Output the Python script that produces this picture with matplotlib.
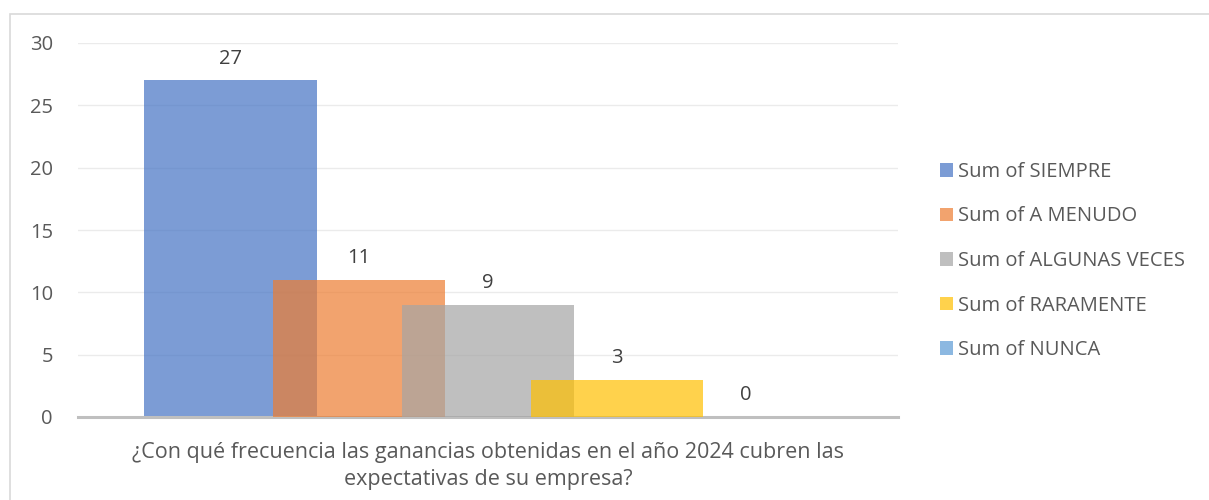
import matplotlib
matplotlib.use("Agg")
import matplotlib.pyplot as plt
from matplotlib.patches import Rectangle, Patch

# data
series = ["Sum of SIEMPRE", "Sum of A MENUDO", "Sum of ALGUNAS VECES",
          "Sum of RARAMENTE", "Sum of NUNCA"]
values = [27, 11, 9, 3, 0]
colors = ["#4472C4", "#ED7D31", "#A5A5A5", "#FFC000", "#5B9BD5"]
category = "¿Con qué frecuencia las ganancias obtenidas en el año 2024 cubren las\nexpectativas de su empresa?"
yticks = [0, 5, 10, 15, 20, 25, 30]

plt.rcParams["font.family"] = ["Open Sans", "DejaVu Sans"]
txt = "#404040"
gray = "#595959"

fig = plt.figure(figsize=(12.09, 5.0), dpi=100)
ax = fig.add_axes([78 / 1209, 1 - 417 / 500, 820 / 1209, 374 / 500])

# chart border
fig.patches.append(Rectangle((10 / 1209, -0.05), 1.2, 1 - 14 / 500 + 0.05,
                             transform=fig.transFigure, fill=False,
                             edgecolor="#D9D9D9", linewidth=1.2, zorder=0))

step, width = 0.157, 0.21
for i, (name, v, c) in enumerate(zip(series, values, colors)):
    x = (i - 2) * step
    ax.bar(x, v, width=width, color=c, alpha=0.7, linewidth=0, label=name, zorder=2 + i)
    ax.text(x, v + 1.75, str(v), ha="center", va="center", fontsize=14.5, color=txt)

ax.set_xlim(-0.5, 0.5)
ax.set_ylim(0, 30)
ax.set_yticks(yticks)
ax.set_yticklabels([str(t) for t in yticks], fontsize=14.5, color=gray)
ax.tick_params(axis="y", length=0, pad=18)
ax.set_xticks([0])
ax.set_xticklabels([category], fontsize=15.5, color=gray, linespacing=1.4)
ax.tick_params(axis="x", length=0, pad=18)
ax.grid(axis="y", color="#EBEBEB", linewidth=1, zorder=0)
ax.set_axisbelow(True)
for s in ["top", "right", "left"]:
    ax.spines[s].set_visible(False)
ax.spines["bottom"].set_color("#BFBFBF")
ax.spines["bottom"].set_linewidth(2.2)

handles = [Patch(facecolor=c, alpha=0.7, edgecolor="none") for c in colors]
leg = fig.legend(handles, series, loc="center left", bbox_to_anchor=(922 / 1209, 1 - 261 / 500),
                 frameon=False, fontsize=14.5, labelcolor=gray, handlelength=0.65,
                 handleheight=0.65, handletextpad=0.25, labelspacing=1.22)

fig.savefig("out.png", dpi=100)
